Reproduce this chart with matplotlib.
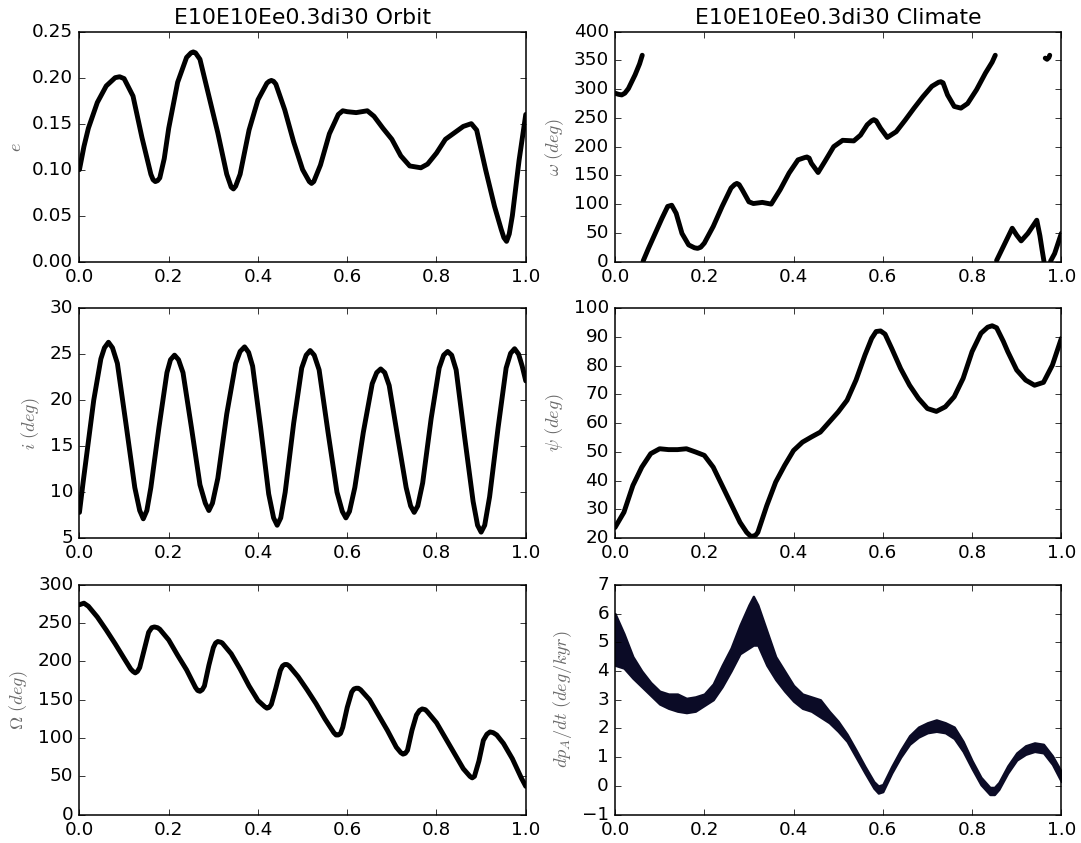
import matplotlib
matplotlib.use("Agg")
import matplotlib.pyplot as plt
import numpy as np

plt.style.use("classic")

# ==========================================================
# Data (time axis normalised 0..1)
# ==========================================================

ecc_t = [0.0, 0.01, 0.02, 0.04, 0.06, 0.08, 0.09, 0.10, 0.12, 0.14, 0.16,
         0.165, 0.17, 0.175, 0.18, 0.19, 0.20, 0.22, 0.24, 0.25, 0.255, 0.26,
         0.27, 0.29, 0.31, 0.33, 0.34, 0.345, 0.35, 0.36, 0.38, 0.40, 0.42,
         0.425, 0.43, 0.435, 0.44, 0.46, 0.48, 0.50, 0.515, 0.52, 0.525, 0.54,
         0.56, 0.58, 0.59, 0.60, 0.62, 0.645, 0.66, 0.68, 0.70, 0.72, 0.74,
         0.765, 0.78, 0.80, 0.82, 0.84, 0.86, 0.878, 0.89, 0.91, 0.93, 0.945,
         0.951, 0.957, 0.963, 0.97, 0.985, 1.0]
ecc = [0.100, 0.125, 0.145, 0.173, 0.191, 0.200, 0.201, 0.199, 0.180, 0.135,
       0.095, 0.089, 0.087, 0.088, 0.091, 0.112, 0.145, 0.195, 0.222, 0.227,
       0.228, 0.227, 0.220, 0.180, 0.140, 0.095, 0.081, 0.079, 0.082, 0.095,
       0.143, 0.176, 0.194, 0.196, 0.197, 0.196, 0.193, 0.165, 0.130, 0.100,
       0.087, 0.085, 0.087, 0.105, 0.139, 0.160, 0.164, 0.163, 0.162, 0.164,
       0.158, 0.145, 0.133, 0.115, 0.104, 0.102, 0.106, 0.118, 0.133, 0.140,
       0.147, 0.150, 0.143, 0.100, 0.060, 0.035, 0.026, 0.022, 0.030, 0.050,
       0.110, 0.160]

inc_t = [0.0, 0.008, 0.016, 0.032, 0.048, 0.056, 0.065, 0.074, 0.085, 0.104,
         0.124, 0.135, 0.143, 0.151, 0.160, 0.178, 0.196, 0.204, 0.213, 0.222,
         0.232, 0.251, 0.270, 0.282, 0.290, 0.298, 0.310, 0.330, 0.350, 0.360,
         0.370, 0.379, 0.388, 0.406, 0.424, 0.435, 0.443, 0.451, 0.461, 0.480,
         0.498, 0.508, 0.517, 0.526, 0.537, 0.557, 0.577, 0.589, 0.597, 0.605,
         0.617, 0.636, 0.656, 0.666, 0.675, 0.684, 0.694, 0.713, 0.732, 0.742,
         0.750, 0.758, 0.769, 0.788, 0.806, 0.816, 0.825, 0.834, 0.844, 0.863,
         0.882, 0.892, 0.900, 0.908, 0.919, 0.938, 0.956, 0.966, 0.975, 0.984,
         0.992, 1.0]
inc = [7.8, 11.0, 14.0, 20.0, 24.5, 25.7, 26.3, 25.7, 24.0, 17.5,
       10.5, 8.0, 7.1, 8.0, 10.5, 17.0, 23.0, 24.4, 24.9, 24.4,
       23.0, 17.0, 10.8, 8.8, 8.0, 8.8, 11.5, 18.5, 24.0, 25.3,
       25.8, 25.2, 23.7, 17.0, 9.8, 7.2, 6.4, 7.2, 10.0, 17.5,
       23.5, 24.9, 25.4, 24.9, 23.3, 16.5, 10.0, 7.9, 7.2, 7.9,
       10.5, 16.5, 21.8, 23.0, 23.4, 23.0, 21.6, 16.0, 10.5, 8.5,
       7.8, 8.5, 11.0, 18.0, 23.5, 24.9, 25.3, 24.9, 23.3, 16.0,
       9.0, 6.4, 5.65, 6.4, 9.5, 17.0, 23.5, 25.1, 25.6, 25.0,
       23.7, 22.1]

node_t = [0.0, 0.01, 0.02, 0.04, 0.06, 0.08, 0.10, 0.115, 0.12, 0.125, 0.13,
          0.135, 0.145, 0.155, 0.162, 0.168, 0.175, 0.18, 0.20, 0.22, 0.24,
          0.26, 0.265, 0.27, 0.275, 0.28, 0.29, 0.30, 0.305, 0.31, 0.317,
          0.32, 0.34, 0.36, 0.38, 0.40, 0.415, 0.42, 0.425, 0.43, 0.44, 0.45,
          0.455, 0.46, 0.465, 0.47, 0.49, 0.51, 0.53, 0.55, 0.57, 0.575, 0.58,
          0.585, 0.59, 0.60, 0.61, 0.615, 0.62, 0.625, 0.63, 0.65, 0.67, 0.69,
          0.71, 0.72, 0.725, 0.73, 0.735, 0.745, 0.755, 0.762, 0.768, 0.775,
          0.78, 0.80, 0.82, 0.84, 0.86, 0.875, 0.88, 0.885, 0.895, 0.905,
          0.913, 0.92, 0.927, 0.935, 0.95, 0.97, 0.99, 1.0]
node = [274, 276, 272, 258, 241, 223, 204, 190, 187, 185, 187,
        192, 215, 238, 244, 245, 244, 242, 228, 208, 189,
        166, 162, 161, 163, 168, 195, 218, 224, 226, 225,
        224, 210, 190, 168, 149, 141, 139, 140, 144, 165, 188,
        194, 196, 196, 194, 180, 163, 145, 125, 107, 104, 104,
        106, 114, 140, 160, 164, 165, 165, 163, 150, 130, 110,
        88, 81, 79, 80, 84, 110, 130, 136, 138, 137,
        134, 120, 100, 80, 60, 50, 48, 50, 70, 97,
        105, 108, 107, 104, 93, 73, 48, 37]

# argument of pericentre, unwrapped (wrapped into 0..360 when drawn)
peri_t = [0.0, 0.008, 0.015, 0.022, 0.03, 0.045, 0.055, 0.061, 0.063, 0.075,
          0.09, 0.105, 0.118, 0.127, 0.137, 0.15, 0.165, 0.178, 0.185, 0.192,
          0.20, 0.22, 0.24, 0.26, 0.268, 0.273, 0.278, 0.285, 0.30, 0.31,
          0.33, 0.35, 0.37, 0.39, 0.41, 0.425, 0.43, 0.435, 0.44, 0.455,
          0.47, 0.49, 0.51, 0.535, 0.55, 0.565, 0.575, 0.58, 0.585, 0.595,
          0.61, 0.63, 0.65, 0.67, 0.69, 0.71, 0.725, 0.73, 0.735, 0.745,
          0.76, 0.775, 0.79, 0.81, 0.83, 0.845, 0.852, 0.855, 0.87, 0.89,
          0.90, 0.91, 0.925, 0.945, 0.952, 0.957, 0.961, 0.964, 0.968,
          0.972, 0.974, 0.976, 0.985, 1.0]
peri = [293, 291, 290, 293, 301, 325, 344, 359, 361, 383,
        409, 435, 456, 458, 444, 409, 389, 384, 383, 385,
        392, 421, 456, 488, 494, 496, 494, 485, 464, 461,
        463, 460, 485, 514, 537, 541, 542, 540, 531, 515,
        534, 560, 571, 570, 580, 598, 605, 607, 605, 592,
        576, 586, 606, 627, 647, 665, 672, 673, 671, 650,
        630, 627, 635, 659, 688, 707, 719, 722, 746, 778,
        766, 756, 769, 792, 765, 740, 721, 714, 712,
        715, 719, 721, 734, 769]

obl_t = [0.0, 0.02, 0.04, 0.06, 0.08, 0.10, 0.12, 0.14, 0.16, 0.18, 0.20,
         0.22, 0.24, 0.26, 0.28, 0.295, 0.305, 0.315, 0.32, 0.34, 0.36, 0.38,
         0.40, 0.42, 0.44, 0.46, 0.48, 0.50, 0.52, 0.54, 0.56, 0.575, 0.585,
         0.595, 0.605, 0.62, 0.64, 0.66, 0.68, 0.70, 0.72, 0.74, 0.76, 0.78,
         0.80, 0.82, 0.835, 0.845, 0.855, 0.87, 0.88, 0.90, 0.92, 0.94, 0.96,
         0.98, 1.0]
obl = [23.7, 29.0, 38.3, 44.7, 49.4, 51.1, 50.8, 50.8, 51.1, 50.0, 48.8,
       44.7, 38.3, 31.9, 25.5, 22.0, 20.5, 21.0, 22.0, 31.3, 39.5, 45.3,
       50.5, 53.4, 55.2, 56.9, 60.4, 63.9, 68.0, 75.0, 83.7, 89.5, 91.9,
       92.1, 91.0, 86.0, 79.0, 73.2, 68.6, 65.1, 64.1, 65.7, 69.2, 75.6,
       84.9, 91.3, 93.4, 93.9, 93.2, 88.5, 84.9, 78.5, 75.0, 73.2, 74.2,
       80.2, 89.5]

# precession rate: the scatter forms a noisy band, kept as lower/upper edges
prec_t = [0.0, 0.02, 0.04, 0.06, 0.08, 0.10, 0.12, 0.14, 0.16, 0.18, 0.20,
          0.22, 0.24, 0.26, 0.28, 0.30, 0.31, 0.32, 0.34, 0.36, 0.38, 0.40,
          0.42, 0.44, 0.46, 0.48, 0.50, 0.52, 0.54, 0.56, 0.58, 0.59, 0.60,
          0.62, 0.64, 0.66, 0.68, 0.70, 0.72, 0.74, 0.76, 0.78, 0.80, 0.82,
          0.84, 0.85, 0.86, 0.88, 0.90, 0.92, 0.94, 0.96, 0.98, 1.0]
prec_low = [4.2, 4.1, 3.75, 3.45, 3.15, 2.85, 2.7, 2.6, 2.55, 2.6, 2.8,
            3.0, 3.45, 4.0, 4.6, 4.8, 4.9, 4.9, 4.2, 3.7, 3.3, 2.95,
            2.7, 2.6, 2.4, 2.2, 1.9, 1.55, 1.0, 0.45, -0.08, -0.25, -0.2,
            0.45, 1.0, 1.45, 1.7, 1.85, 1.9, 1.85, 1.65, 1.2, 0.6, 0.04,
            -0.3, -0.3, -0.12, 0.45, 0.9, 1.1, 1.2, 1.15, 0.75, 0.15]
prec_high = [6.0, 5.3, 4.5, 4.0, 3.6, 3.3, 3.2, 3.2, 3.05, 3.1, 3.2,
             3.55, 4.2, 4.8, 5.6, 6.3, 6.6, 6.3, 5.4, 4.5, 4.0, 3.5,
             3.2, 3.1, 3.0, 2.6, 2.25, 1.8, 1.25, 0.68, 0.15, 0.0, 0.05,
             0.68, 1.25, 1.75, 2.05, 2.2, 2.3, 2.2, 2.05, 1.55, 0.88, 0.3,
             -0.05, -0.05, 0.12, 0.7, 1.15, 1.4, 1.5, 1.45, 1.05, 0.5]

# ==========================================================
# Helpers
# ==========================================================

LINE_KW = dict(color="black", lw=3.2, solid_capstyle="round",
               solid_joinstyle="round")
LABEL_COLOR = "#6a6a6a"
DOT_COLOR = "#0b0b26"


def wrap_degrees(t, values):
    """Wrap into 0..360 and break the line where it jumps."""
    t = np.asarray(t, dtype=float)
    wrapped = np.mod(np.asarray(values, dtype=float), 360.0)
    jumps = np.where(np.abs(np.diff(wrapped)) > 180)[0] + 1
    return (np.insert(t, jumps, np.nan),
            np.insert(wrapped, jumps, np.nan))


def style_axis(ax, ylabel, ylim, yticks):
    ax.set_xlim(0, 1)
    ax.set_ylim(*ylim)
    ax.set_yticks(yticks)
    ax.set_xticks([0.0, 0.2, 0.4, 0.6, 0.8, 1.0])
    ax.set_ylabel(ylabel, color=LABEL_COLOR, fontsize=12)
    ax.tick_params(labelsize=12, direction="in", top=True, right=True)


# ==========================================================
# Figure
# ==========================================================

fig, axes = plt.subplots(3, 2, figsize=(1081 / 110, 843 / 110), dpi=110)
fig.patch.set_facecolor("white")
fig.subplots_adjust(left=0.0735, right=0.9818, top=0.9624, bottom=0.0336,
                    wspace=0.20, hspace=0.203)

ax = axes[0, 0]
ax.plot(ecc_t, ecc, **LINE_KW)
style_axis(ax, r"$e$", (0, 0.25), np.arange(0, 0.26, 0.05))
ax.set_title("E10E10Ee0.3di30 Orbit", fontsize=14.4)

ax = axes[1, 0]
ax.plot(inc_t, inc, **LINE_KW)
style_axis(ax, r"$i\ (deg)$", (5, 30), np.arange(5, 31, 5))

ax = axes[2, 0]
ax.plot(node_t, node, **LINE_KW)
style_axis(ax, r"$\Omega\ (deg)$", (0, 300), np.arange(0, 301, 50))

ax = axes[0, 1]
peri_x, peri_y = wrap_degrees(peri_t, peri)
ax.plot(peri_x, peri_y, **LINE_KW)
style_axis(ax, r"$\omega\ (deg)$", (0, 400), np.arange(0, 401, 50))
ax.set_title("E10E10Ee0.3di30 Climate", fontsize=14.4)

ax = axes[1, 1]
ax.plot(obl_t, obl, **LINE_KW)
style_axis(ax, r"$\psi\ (deg)$", (20, 100), np.arange(20, 101, 10))

ax = axes[2, 1]
ax.fill_between(prec_t, prec_low, prec_high, color=DOT_COLOR, lw=1.5,
                edgecolor=DOT_COLOR)
style_axis(ax, r"$dp_A/dt\ (deg/kyr)$", (-1, 7), np.arange(-1, 8, 1))

fig.savefig("out.png", dpi=110, facecolor="white")
